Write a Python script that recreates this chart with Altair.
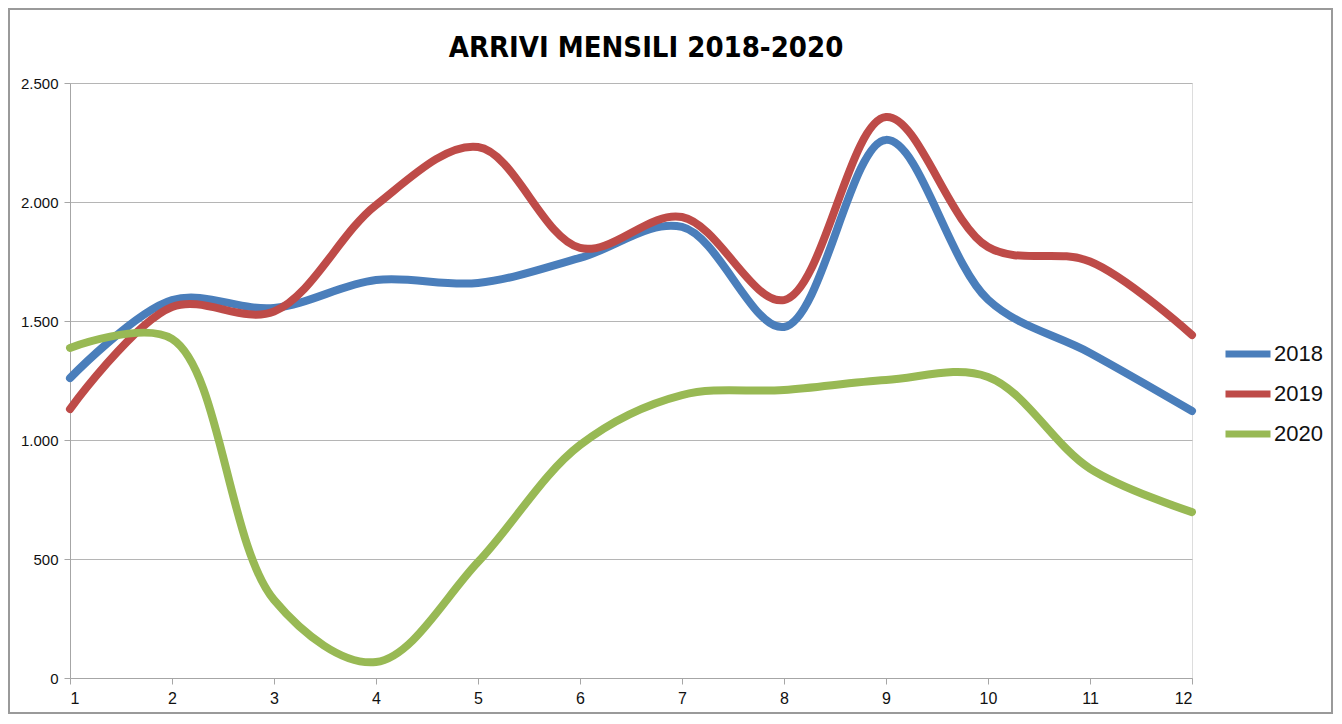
import altair as alt
import pandas as pd

title_text = "ARRIVI MENSILI 2018-2020"
months = list(range(1, 13))
years = ["2018", "2019", "2020"]
v2018 = [1260, 1588, 1555, 1672, 1660, 1765, 1895, 1475, 2261, 1590, 1366, 1122]
v2019 = [1130, 1559, 1540, 1987, 2231, 1807, 1937, 1588, 2357, 1811, 1750, 1441]
v2020 = [1387, 1425, 328, 67, 487, 979, 1189, 1210, 1252, 1265, 880, 697]
colors = ["#4A7EBB", "#BE4B48", "#98B954"]
y_ticks = [0, 500, 1000, 1500, 2000, 2500]

rows = []
for yr, vals in zip(years, [v2018, v2019, v2020]):
    for m, v in zip(months, vals):
        rows.append({"mese": m, "anno": yr, "arrivi": v})
df = pd.DataFrame(rows)

W, H = 1122, 595
PL, PT, PR, PB = 62, 75, 142, 36

border = alt.Chart(pd.DataFrame({"a": [0]})).mark_rect(
    fillOpacity=0, stroke="#9a9a9a", strokeWidth=2, clip=False
).encode(
    x=alt.value(-61), x2=alt.value(W + PR - 2), y=alt.value(-74), y2=alt.value(H + PB - 1)
)

title = alt.Chart(pd.DataFrame({"t": [title_text]})).mark_text(
    font="DejaVu Sans Condensed, Liberation Sans Narrow, Liberation Sans",
    fontSize=29, fontWeight="bold", color="#000000", align="center",
    baseline="alphabetic", clip=False
).encode(x=alt.value(576), y=alt.value(-26), text="t:N")

lines = alt.Chart(df).mark_line(
    interpolate="catmull-rom", strokeWidth=8, strokeCap="round", clip=False
).encode(
    x=alt.X("mese:Q", scale=alt.Scale(domain=[1, 12], nice=False, zero=False),
            axis=alt.Axis(values=months, title=None, grid=False, tickSize=6,
                          labelFontSize=16, labelPadding=6, labelColor="#111111",
                          domainColor="#a6a6a6", tickColor="#a6a6a6",
                          labelFont="Liberation Sans")),
    y=alt.Y("arrivi:Q", scale=alt.Scale(domain=[0, 2500], nice=False),
            axis=alt.Axis(values=y_ticks, title=None, grid=True, gridColor="#b5b5b5",
                          tickSize=6, labelFontSize=15, labelPadding=6, labelColor="#111111",
                          domainColor="#a6a6a6", tickColor="#a6a6a6",
                          labelFont="Liberation Sans",
                          labelExpr="replace(format(datum.value, ','), ',', '.')")),
    color=alt.Color("anno:N", scale=alt.Scale(domain=years, range=colors),
                    legend=alt.Legend(title=None, orient="none", legendX=W + 30, legendY=245,
                                      symbolType="stroke", symbolSize=2025,
                                      symbolStrokeWidth=7, labelFontSize=22,
                                      labelFont="Liberation Sans", labelColor="#111111",
                                      rowPadding=0, labelOffset=0)),
    detail="anno:N",
)

chart = alt.layer(border, lines, title).properties(
    width=W, height=H,
    autosize=alt.AutoSizeParams(type="none"),
    padding={"left": PL, "top": PT, "right": PR, "bottom": PB},
).configure_view(stroke=None).configure(background="white")

chart.save("out.html", embed_options={"renderer": "svg", "actions": False})
